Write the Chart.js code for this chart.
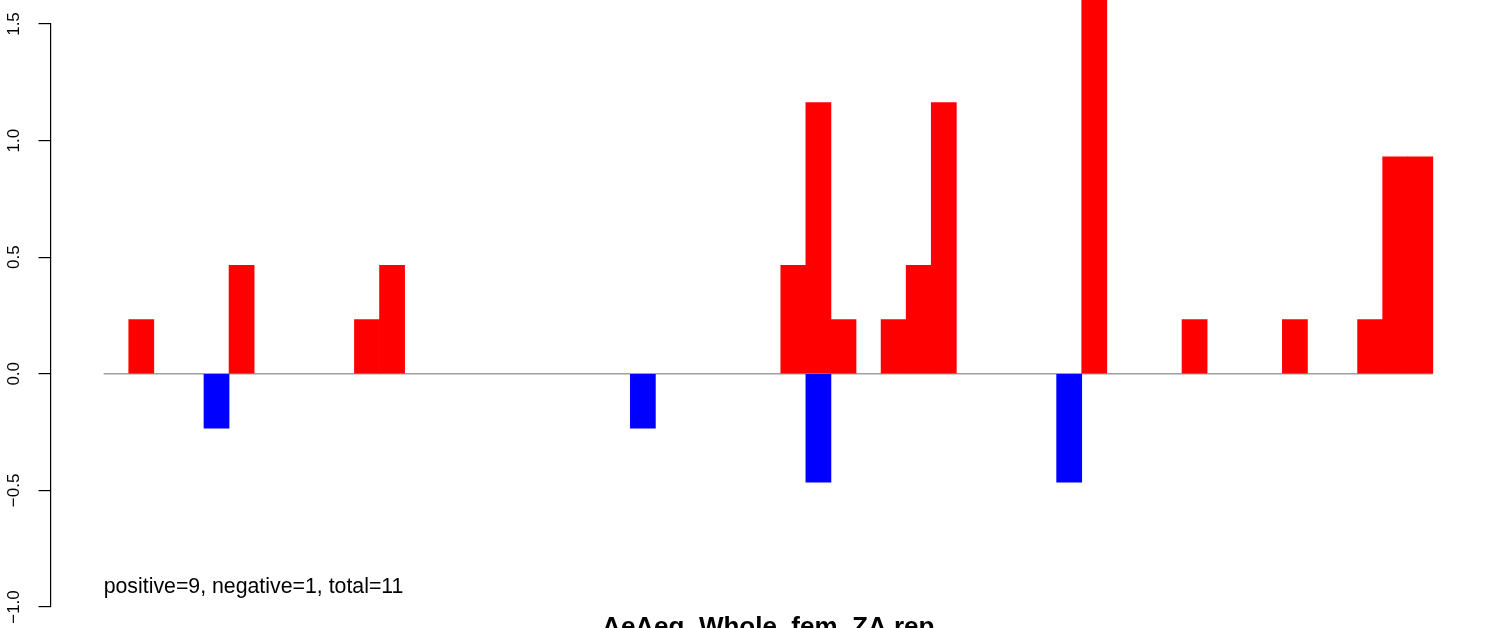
<!DOCTYPE html>
<html>
<head>
<meta charset="utf-8">
<script src="https://cdn.jsdelivr.net/npm/chart.js@4/dist/chart.umd.min.js"></script>
<style>
  html, body { margin: 0; padding: 0; background: #ffffff; }
  #wrap { width: 1506px; height: 628px; position: relative; }
</style>
</head>
<body>
<div id="wrap"><canvas id="c" width="1506" height="628"></canvas></div>
<script>
// ---- data ----
const n = null;
const slotCount = 53;
const slotIndex = Array.from({ length: slotCount }, (_, i) => i);
const positiveValues = [
  n, 0.233, n, n, n, 0.465, n, n, n, n,
  0.233, 0.465, n, n, n, n, n, n, n, n,
  n, n, n, n, n, n, n, 0.465, 1.163, 0.233,
  n, 0.233, 0.465, 1.163, n, n, n, n, n, 1.86,
  n, n, n, 0.233, n, n, n, 0.233, n, n,
  0.233, 0.93, 0.93
];
const negativeValues = [
  n, n, n, n, -0.233, n, n, n, n, n,
  n, n, n, n, n, n, n, n, n, n,
  n, -0.233, n, n, n, n, n, n, -0.465, n,
  n, n, n, n, n, n, n, n, -0.465, n,
  n, n, n, n, n, n, n, n, n, n,
  n, n, n
];
const yTickValues = [-1, -0.5, 0, 0.5, 1, 1.5];
const yTickLabels = ['\u22121.0', '\u22120.5', '0.0', '0.5', '1.0', '1.5'];
const chartTitle = 'AeAeg_Whole_fem_ZA.rep';
const noteText = 'positive=9, negative=1, total=11';
const noteX = 0;
const noteY = -0.916;

// ---- build ----
const toPoints = vals => slotIndex.map(i => ({ x: i + 0.5, y: vals[i] }));

const notePlugin = {
  id: 'note',
  afterDatasetsDraw(chart) {
    const { ctx, scales: { x, y } } = chart;
    ctx.save();
    ctx.font = '21.3px "Liberation Sans", Arial, sans-serif';
    ctx.fillStyle = '#000000';
    ctx.textAlign = 'left';
    ctx.textBaseline = 'middle';
    ctx.fillText(noteText, x.getPixelForValue(noteX), y.getPixelForValue(noteY));
    ctx.restore();
  }
};

new Chart(document.getElementById('c'), {
  type: 'bar',
  data: {
    datasets: [
      {
        type: 'line',
        data: [{ x: 0, y: 0 }, { x: slotCount, y: 0 }],
        borderColor: '#a0a0a0',
        borderWidth: 1.5,
        pointRadius: 0,
        fill: false,
        order: 3
      },
      {
        type: 'bar',
        data: toPoints(negativeValues),
        backgroundColor: '#0000ff',
        borderWidth: 0,
        barPercentage: 1,
        categoryPercentage: 1,
        grouped: false,
        order: 2
      },
      {
        type: 'bar',
        data: toPoints(positiveValues),
        backgroundColor: '#ff0000',
        borderWidth: 0,
        barPercentage: 1,
        categoryPercentage: 1,
        grouped: false,
        clip: false,
        order: 1
      }
    ]
  },
  options: {
    responsive: false,
    devicePixelRatio: 1,
    animation: false,
    layout: { padding: { top: 24, left: 5.9, right: 20, bottom: 0 } },
    plugins: { legend: { display: false }, tooltip: { enabled: false }, title: { display: false } },
    scales: {
      x: {
        type: 'linear',
        min: -2.12,
        max: 55.12,
        bounds: 'data',
        offset: false,
        afterBuildTicks: scale => { scale.ticks = [{ value: 0 }]; },
        grid: { display: false, drawTicks: false },
        border: { display: false },
        ticks: { display: false },
        title: {
          display: true,
          text: chartTitle,
          color: '#000000',
          font: { family: '"Liberation Sans", Arial, sans-serif', size: 26, weight: 'bold', lineHeight: 1 },
          padding: { top: 8, bottom: -13 }
        }
      },
      y: {
        type: 'linear',
        min: -1,
        max: 1.5,
        afterBuildTicks: scale => { scale.ticks = yTickValues.map(v => ({ value: v })); },
        grid: { display: true, drawOnChartArea: false, drawTicks: true, tickLength: 12, color: '#000000', lineWidth: 1.2 },
        border: { display: true, color: '#000000', width: 1.2 },
        ticks: {
          minRotation: 90,
          maxRotation: 90,
          crossAlign: 'center',
          padding: 7.8,
          color: '#000000',
          font: { family: '"Liberation Sans", Arial, sans-serif', size: 17, lineHeight: 1 },
          callback: (value) => yTickLabels[yTickValues.indexOf(value)]
        }
      }
    }
  },
  plugins: [notePlugin]
});
</script>
</body>
</html>
